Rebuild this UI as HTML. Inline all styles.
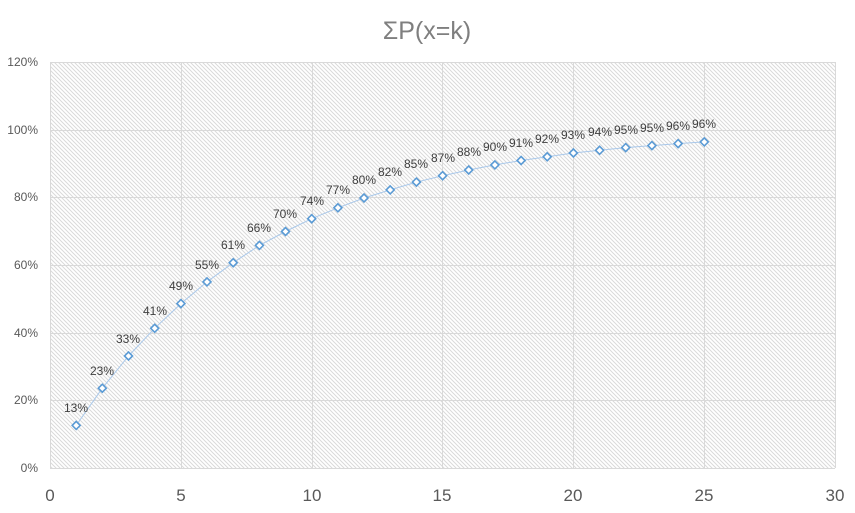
<!DOCTYPE html>
<html><head><meta charset="utf-8"><style>body{margin:0;background:#fff}svg{display:block;font-family:"Liberation Sans",sans-serif}</style></head><body>
<svg width="855" height="513" viewBox="0 0 855 513">
<defs><pattern id="h" width="4" height="4" patternUnits="userSpaceOnUse"><path d="M-1,-1 L5,5 M-1,3 L1,5 M3,-1 L5,1" stroke="#d9d9d9" stroke-width="1"/></pattern></defs>
<rect x="50" y="62" width="785" height="406" fill="url(#h)"/>
<g stroke="#d9d9d9" stroke-width="1">
<line x1="50" y1="62.5" x2="835" y2="62.5"/><line x1="50" y1="130.5" x2="835" y2="130.5"/><line x1="50" y1="197.5" x2="835" y2="197.5"/><line x1="50" y1="265.5" x2="835" y2="265.5"/><line x1="50" y1="333.5" x2="835" y2="333.5"/><line x1="50" y1="400.5" x2="835" y2="400.5"/><line x1="50" y1="468.5" x2="835" y2="468.5"/>
<line x1="50.5" y1="62" x2="50.5" y2="468"/><line x1="181.5" y1="62" x2="181.5" y2="468"/><line x1="312.5" y1="62" x2="312.5" y2="468"/><line x1="442.5" y1="62" x2="442.5" y2="468"/><line x1="573.5" y1="62" x2="573.5" y2="468"/><line x1="704.5" y1="62" x2="704.5" y2="468"/><line x1="835.5" y1="62" x2="835.5" y2="468"/>
</g>
<text x="427" y="39" text-anchor="middle" font-size="25" fill="#7f7f7f">ΣP(x=k)</text>
<g font-size="12" fill="#595959" text-anchor="end">
<text x="38" y="66">120%</text><text x="38" y="134">100%</text><text x="38" y="201">80%</text><text x="38" y="269">60%</text><text x="38" y="337">40%</text><text x="38" y="404">20%</text><text x="38" y="472">0%</text>
</g>
<g font-size="17" fill="#595959" text-anchor="middle">
<text x="50" y="501">0</text><text x="181" y="501">5</text><text x="312" y="501">10</text><text x="442" y="501">15</text><text x="573" y="501">20</text><text x="704" y="501">25</text><text x="835" y="501">30</text>
</g>
<polyline fill="none" stroke="#a9c8ea" stroke-width="1" points="76.2,425.4 102.3,388.2 128.5,356 154.7,328.3 180.9,303.6 207,281.9 233.2,262.7 259.4,245.4 285.5,231.5 311.7,218.7 337.9,207.8 364,198 390.2,189.9 416.4,182.1 442.6,175.7 468.7,170 494.9,164.9 521.1,160.5 547.2,156.8 573.4,153 599.6,150.3 625.7,147.6 651.9,145.6 678.1,143.6 704.3,141.9"/>
<g fill="#fff" stroke="#5b9bd5" stroke-width="1.6">
<path d="M76.2,421.4l4,4-4,4-4-4z"/><path d="M102.3,384.2l4,4-4,4-4-4z"/><path d="M128.5,352l4,4-4,4-4-4z"/><path d="M154.7,324.3l4,4-4,4-4-4z"/><path d="M180.9,299.6l4,4-4,4-4-4z"/><path d="M207,277.9l4,4-4,4-4-4z"/><path d="M233.2,258.7l4,4-4,4-4-4z"/><path d="M259.4,241.4l4,4-4,4-4-4z"/><path d="M285.5,227.5l4,4-4,4-4-4z"/><path d="M311.7,214.7l4,4-4,4-4-4z"/><path d="M337.9,203.8l4,4-4,4-4-4z"/><path d="M364,194l4,4-4,4-4-4z"/><path d="M390.2,185.9l4,4-4,4-4-4z"/><path d="M416.4,178.1l4,4-4,4-4-4z"/><path d="M442.6,171.7l4,4-4,4-4-4z"/><path d="M468.7,166l4,4-4,4-4-4z"/><path d="M494.9,160.9l4,4-4,4-4-4z"/><path d="M521.1,156.5l4,4-4,4-4-4z"/><path d="M547.2,152.8l4,4-4,4-4-4z"/><path d="M573.4,149l4,4-4,4-4-4z"/><path d="M599.6,146.3l4,4-4,4-4-4z"/><path d="M625.7,143.6l4,4-4,4-4-4z"/><path d="M651.9,141.6l4,4-4,4-4-4z"/><path d="M678.1,139.6l4,4-4,4-4-4z"/><path d="M704.3,137.9l4,4-4,4-4-4z"/>
</g>
<g font-size="12" fill="#404040" text-anchor="middle">
<text x="76" y="412">13%</text><text x="102" y="375">23%</text><text x="128" y="343">33%</text><text x="155" y="315">41%</text><text x="181" y="290">49%</text><text x="207" y="269">55%</text><text x="233" y="249">61%</text><text x="259" y="232">66%</text><text x="285" y="218">70%</text><text x="312" y="205">74%</text><text x="338" y="194">77%</text><text x="364" y="184">80%</text><text x="390" y="176">82%</text><text x="416" y="168">85%</text><text x="443" y="162">87%</text><text x="469" y="156">88%</text><text x="495" y="151">90%</text><text x="521" y="147">91%</text><text x="547" y="143">92%</text><text x="573" y="139">93%</text><text x="600" y="136">94%</text><text x="626" y="134">95%</text><text x="652" y="132">95%</text><text x="678" y="130">96%</text><text x="704" y="128">96%</text>
</g>
</svg>
</body></html>
